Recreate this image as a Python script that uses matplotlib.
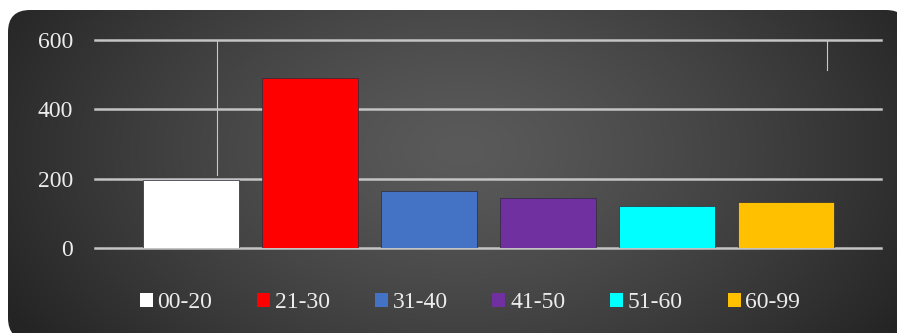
import numpy as np
import matplotlib
matplotlib.use("Agg")
import matplotlib.pyplot as plt
from matplotlib.patches import FancyBboxPatch, Patch

categories = ["00-20", "21-30", "31-40", "41-50", "51-60", "60-99"]
values = [195, 490, 163, 143, 122, 133]
colors = ["#ffffff", "#ff0000", "#4472c4", "#7030a0", "#00ffff", "#ffc000"]
yticks = [0, 200, 400, 600]

W, H = 897, 333
fig = plt.figure(figsize=(W / 100, H / 100), dpi=100)
fig.patch.set_facecolor("white")

# background rounded panel with radial gradient
bg = fig.add_axes([0, 0, 1, 1], zorder=0)
bg.set_xlim(0, W)
bg.set_ylim(H, 0)
bg.axis("off")
yy, xx = np.mgrid[0:H, 0:W]
r = np.sqrt(((xx - 460) / 520.0) ** 2 + ((yy - 150) / 330.0) ** 2)
r = np.clip(r, 0, 1) ** 1.3
c_center = np.array([0x5a, 0x5a, 0x5a]) / 255.0
c_edge = np.array([0x24, 0x24, 0x24]) / 255.0
img = c_center[None, None, :] + (c_edge - c_center)[None, None, :] * r[:, :, None]
panel = FancyBboxPatch((8, 10), 900, 330, boxstyle="round,pad=0,rounding_size=22",
                       transform=bg.transData, facecolor="none", edgecolor="none")
bg.add_patch(panel)
im = bg.imshow(img, extent=(0, W, H, 0), aspect="auto", interpolation="bilinear")
im.set_clip_path(panel)
# faint vertical artefact lines seen in the original
bg.plot([217, 217], [40, 175], color="#c8c8c8", lw=0.8)
bg.plot([827, 827], [40, 70], color="#c8c8c8", lw=0.8)

ax = fig.add_axes([95 / W, 1 - 248 / H, (881 - 95) / W, (248 - 40) / H], zorder=1)
ax.patch.set_alpha(0)
x = np.arange(len(categories))
ax.set_xlim(-0.81, 5.80)
ax.set_ylim(0, 600)
for yv in yticks:
    ax.axhline(yv, color="#c4c4c4", lw=1.8, zorder=1, clip_on=False)
bars = ax.bar(x, values, width=0.81, color=colors, edgecolor="#2a2a3a", linewidth=0.5, zorder=2)

ax.set_yticks(yticks)
ax.set_yticklabels([str(v) for v in yticks])
ax.set_xticks([])
for s in ax.spines.values():
    s.set_visible(False)
ax.tick_params(axis="y", length=0, pad=16, labelsize=17, labelcolor="#ececec")
for lab in ax.get_yticklabels():
    lab.set_fontfamily("Liberation Serif")

handles = [Patch(facecolor=c, edgecolor="none") for c in colors]
leg = fig.legend(handles, categories, loc="center", bbox_to_anchor=(470 / W, 1 - 303 / H),
                 ncol=6, frameon=False, handlelength=0.55, handleheight=0.55,
                 handletextpad=0.2, columnspacing=1.9,
                 prop={"family": "Liberation Serif", "size": 17})
for t in leg.get_texts():
    t.set_color("#ececec")

fig.savefig("out.png", dpi=100)
